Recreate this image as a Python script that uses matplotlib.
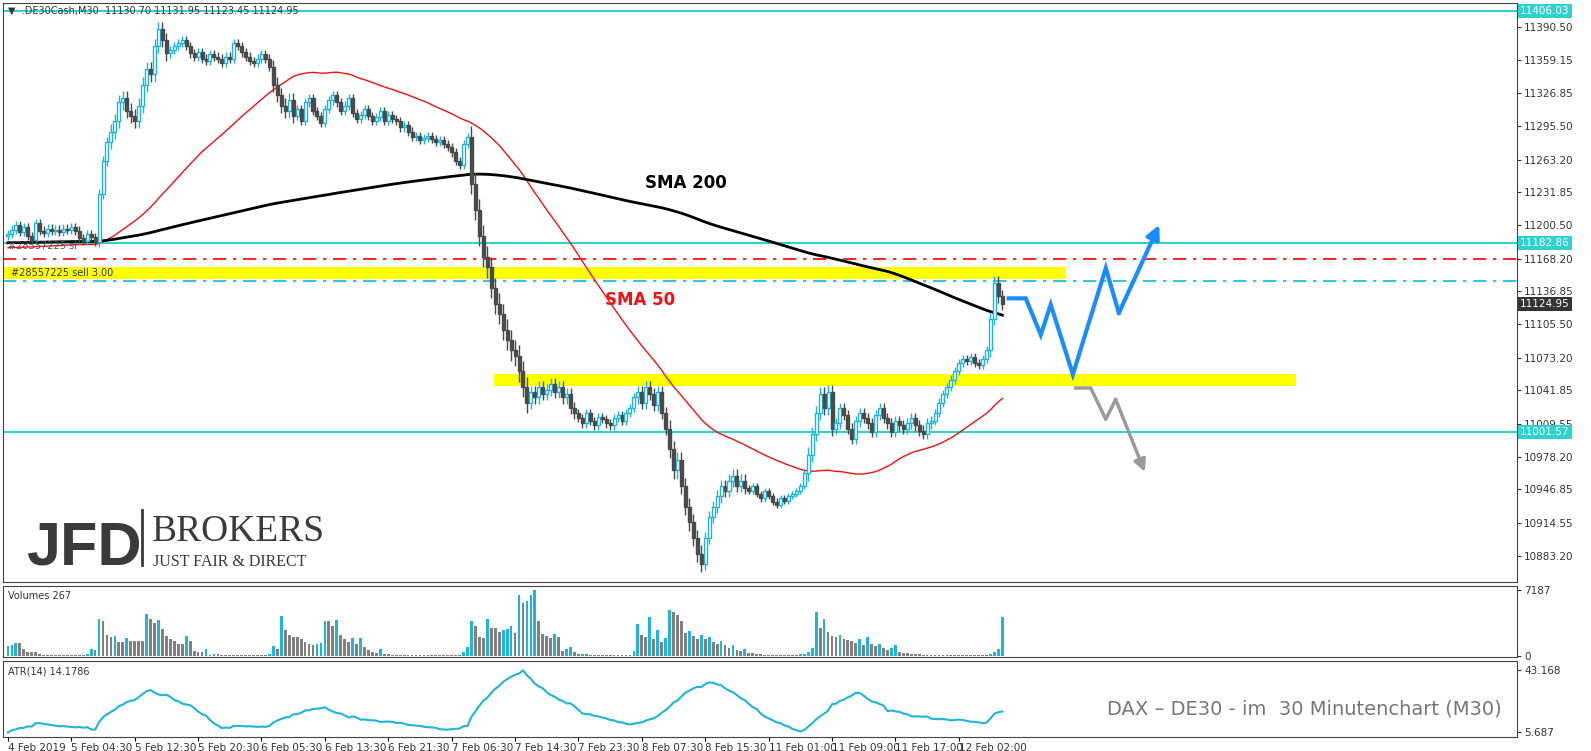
import matplotlib.pyplot as plt
import numpy as np
import pandas as pd
from matplotlib.patches import Rectangle

plt.rcParams['font.family'] = ['DejaVu Sans']

# --- Daten ---
closes = [
    11192, 11196, 11200, 11194, 11198, 11190, 11186, 11202, 11195, 11193, 11197, 11195, 11196, 11194, 11197, 11196,
    11198, 11195, 11188, 11185, 11192, 11189, 11184,
    11230, 11262, 11280,
    11290, 11300, 11318, 11322, 11310, 11305, 11300, 11315, 11335, 11350, 11345, 11372, 11388, 11378, 11365,
    11368, 11372, 11375, 11378, 11372, 11365, 11362, 11366, 11360, 11358, 11364, 11362, 11360, 11356, 11362, 11360,
    11375, 11372, 11366, 11362, 11358, 11356, 11360, 11364, 11360, 11352,
    11335, 11325, 11315, 11310, 11320, 11305,
    11312, 11300, 11318, 11322, 11310, 11305, 11298, 11312, 11320, 11325, 11318, 11310, 11315, 11322, 11308, 11302,
    11306, 11312, 11305, 11300, 11304, 11310, 11300, 11306, 11302, 11300, 11294, 11296,
    11290, 11285, 11286, 11282, 11284, 11286, 11283, 11280, 11282, 11278, 11275, 11270, 11262, 11258, 11278, 11285,
    11240, 11215, 11190, 11170, 11160, 11140, 11125, 11115, 11100, 11090, 11080, 11075, 11060, 11045, 11030,
    11040, 11035, 11045, 11038, 11042, 11048, 11040, 11045, 11035, 11038, 11025, 11020,
    11015, 11010, 11020, 11012, 11008, 11016, 11014, 11010, 11008, 11015, 11018, 11012, 11020, 11025, 11035,
    11040, 11030, 11045, 11038, 11028, 11040, 11020, 11005,
    10985, 10965, 10975, 10950, 10930, 10915, 10900, 10885, 10875,
    10900, 10920, 10930, 10940, 10950, 10945, 10955, 10960, 10950, 10955, 10948,
    10945, 10950, 10942, 10938, 10945, 10940, 10935, 10932, 10938, 10936, 10940, 10942, 10945, 10950, 10962,
    10980, 11000, 11020, 11038, 11025, 11040, 11005,
    11010, 11025, 11018, 11005, 10995, 11012, 11020, 11015, 11010, 11002, 11018, 11025, 11015, 11010, 11002, 11012,
    11008, 11005, 11010, 11015, 11008, 11003, 11000, 11010, 11012,
    11020, 11030, 11038, 11045, 11052, 11060, 11068, 11072, 11070, 11074, 11068, 11066, 11072, 11080,
    11110, 11145, 11132, 11125.0,
]
first_open = 11190
# Dochtlänge je Abschnitt
seg_len = [23, 3, 15, 26, 6, 28, 16, 15, 12, 15, 8, 9, 11, 15, 7, 25, 14, 4]
seg_wick = [4, 5, 7, 4, 7, 4, 4, 10, 6, 4, 6, 8, 6, 3, 7, 5, 4, 6]
# Vorgeschichte für SMA 200 (10er-Blöcke)
prior_block = [11180, 11182, 11185, 11183, 11186, 11188, 11185, 11184, 11187, 11186,
               11185, 11183, 11186, 11188, 11185, 11187, 11186, 11184, 11170, 11165]

volumes = [
    1100, 1200, 1400, 1400, 750, 450, 450, 450, 200, 100, 100, 100, 100, 100, 100, 100, 100, 100, 100, 100, 150, 700, 600,
    4060, 3780, 2300, 2000, 2200, 1500, 1500, 1900, 1600, 1600, 1600, 1600, 4580, 4060, 3600, 3900, 2900, 2150, 1800, 1600,
    1300, 1300, 2200, 1600, 500, 400, 400, 700, 100, 150,
    150, 100, 100, 100, 100, 100, 100, 100, 100, 100, 100, 100, 100, 150, 1100,
    760, 4300, 2850, 2300, 2000, 2000, 1800, 1500, 1300, 1200, 1300, 1400, 3800, 3800, 3200, 3900, 2300, 1800, 1500, 1900,
    1300, 1900, 950, 600, 400, 300, 700, 200, 200, 100, 100,
    100, 100, 100, 100, 100, 100, 100, 100, 100, 100, 100, 100, 100, 100, 100, 100, 400, 1000,
    3800, 3260, 2000, 1950, 4060, 3000, 3000, 2600, 2800, 2900, 3260, 2500, 6660, 5800, 6000, 6660, 7187, 3800, 2400, 2200,
    1900, 2400, 2100, 500, 700, 1000, 400, 150, 200, 200, 100, 100,
    100, 100, 100, 100, 100, 100, 100, 100, 100, 500,
    3500, 2300, 2000, 4200, 1800, 2800, 1500, 1900, 5000, 4800, 4500, 3800, 2500, 2700, 2200, 1800, 2300, 1800, 2000, 1500,
    1300, 1600, 1200, 800, 1200, 600, 500, 700, 300, 300, 200, 150, 100, 100, 100, 100, 100, 100, 100, 100, 100, 150,
    200, 400, 900, 4800, 3000, 4000, 2600, 2200, 2000, 2300, 1800, 1700, 1600, 1400, 1800, 1200, 2000, 1300, 1100, 1300,
    900, 600, 800, 1200, 400, 300, 300, 200, 200, 150, 100, 100, 100,
    100, 100, 100, 100, 100, 100, 100, 100, 100, 100, 100, 100, 100, 100, 200, 400, 700, 4200,
]

xtick_labels = ['4 Feb 2019', '5 Feb 04:30', '5 Feb 12:30', '5 Feb 20:30', '6 Feb 05:30', '6 Feb 13:30',
                '6 Feb 21:30', '7 Feb 06:30', '7 Feb 14:30', '7 Feb 23:30', '8 Feb 07:30', '8 Feb 15:30',
                '11 Feb 01:00', '11 Feb 09:00', '11 Feb 17:00', '12 Feb 02:00']
price_ticks = [11390.50, 11359.15, 11326.85, 11295.50, 11263.20, 11231.85, 11200.50, 11168.20, 11136.85,
               11105.50, 11073.20, 11041.85, 11009.55, 10978.20, 10946.85, 10914.55, 10883.20]

# Szenario-Pfeile
blue_x = [252.6, 256.9, 260.7, 263.2, 268.8, 277.1, 280.4, 290.9]
blue_y = [11130, 11130, 11095, 11124, 11057, 11159, 11116, 11203]
gray_x = [269.5, 273.3, 277.1, 279.6, 287.2]
gray_y = [11044, 11044, 11014, 11033, 10961]

# --- Berechnungen ---
c = np.array(closes, dtype=float)
n = len(c)
o = np.concatenate([[first_open], c[:-1]])
wick = np.repeat(seg_wick, seg_len)
hi = np.maximum(o, c) + wick
lo = np.minimum(o, c) - wick
x = np.arange(n)

full = pd.Series(np.concatenate([np.repeat(prior_block, 10), c]))
sma200 = full.rolling(200).mean().values[-n:]
sma50 = full.rolling(50).mean().values[-n:]
prev_c = np.concatenate([[first_open], c[:-1]])
tr = np.maximum(hi - lo, np.maximum(abs(hi - prev_c), abs(lo - prev_c)))
atr = pd.Series(tr).rolling(14, min_periods=1).mean().values

UP = '#1EB4DC'
DOWN = '#4A4A4A'
TURQ = '#2ED3CF'
XMAX = 380.9

fig = plt.figure(figsize=(15.91, 7.51), dpi=100)
ax = fig.add_axes([0.002, 0.225, 0.9515, 0.771])
axv = fig.add_axes([0.002, 0.125, 0.9515, 0.0945])
axa = fig.add_axes([0.002, 0.0186, 0.9515, 0.101])

for a in (ax, axv, axa):
    a.set_xlim(-1.2, XMAX)
    a.yaxis.tick_right()
    a.tick_params(axis='y', labelsize=7.5, length=3, colors='#333333', pad=2)
    a.tick_params(axis='x', length=0)
    for s in a.spines.values():
        s.set_color('#444444')
    a.set_xticks([])

# Kerzen
for i in range(n):
    up = c[i] >= o[i]
    col = UP if up else DOWN
    ax.vlines(x[i], lo[i], hi[i], color=col, lw=1, zorder=3)
    b = max(abs(c[i] - o[i]), 0.8)
    ax.add_patch(Rectangle((x[i] - 0.38, min(o[i], c[i])), 0.76, b, facecolor='white' if up else DOWN,
                           edgecolor=col, lw=1, zorder=4))

ax.plot(x, sma50, color='#F01010', lw=1, zorder=2)
ax.plot(x, sma200, color='black', lw=2, zorder=2)

ax.set_ylim(10857.8, 11413.4)
ax.set_yticks(price_ticks)
ax.set_yticklabels([f'{v:.2f}' for v in price_ticks])

# Horizontale Linien und Zonen
for lvl in (11406.03, 11182.86, 11001.57):
    ax.axhline(lvl, color=TURQ, lw=1.5, zorder=1)
ax.axhline(11168.20, color='red', lw=1.2, dashes=(8, 4, 2, 4), zorder=1)
ax.axhline(11146.5, color='#00BFE0', lw=1.2, dashes=(8, 4, 2, 4), zorder=1)
ax.fill_between([-1.2, 267], 11149, 11160, color='#FFFF00', zorder=1.5, lw=0)
ax.fill_between([122.7, 325], 11046, 11057, color='#FFFF00', zorder=1.5, lw=0)

for lvl, fc in ((11406.03, TURQ), (11182.86, TURQ), (11001.57, TURQ), (11124.95, '#333333')):
    ax.text(1.002, lvl, f'{lvl:.2f}', transform=ax.get_yaxis_transform(), fontsize=7.5, color='white',
            va='center', ha='left', bbox=dict(boxstyle='square,pad=0.2', fc=fc, ec='none'), zorder=10)

ax.text(0.003, 11180, '#28557225 sl', transform=ax.get_yaxis_transform(), fontsize=7, color='#555555', va='center')
ax.text(0.005, 11154.5, '#28557225 sell 3.00', transform=ax.get_yaxis_transform(), fontsize=7,
        color='#333333', va='center', zorder=5)
ax.text(0.003, 0.995, '\u25bc  .DE30Cash,M30  11130.70 11131.95 11123.45 11124.95', transform=ax.transAxes,
        fontsize=7, color='#333333', va='top', zorder=10)

ax.text(160.7, 11236, 'SMA 200', fontsize=12, fontweight='bold', color='black')
ax.text(150.6, 11124, 'SMA 50', fontsize=12, fontweight='bold', color='#F01010')

ax.plot(blue_x[:-1], blue_y[:-1], color='#1A8CFF', lw=3, solid_joinstyle='miter', zorder=6)
ax.annotate('', xy=(blue_x[-1], blue_y[-1]), xytext=(blue_x[-2], blue_y[-2]),
            arrowprops=dict(arrowstyle='-|>,head_length=0.8,head_width=0.4', color='#1A8CFF', lw=3), zorder=6)
ax.plot(gray_x[:-1], gray_y[:-1], color='#9A9A9A', lw=2.5, zorder=6)
ax.annotate('', xy=(gray_x[-1], gray_y[-1]), xytext=(gray_x[-2], gray_y[-2]),
            arrowprops=dict(arrowstyle='-|>,head_length=0.7,head_width=0.35', color='#9A9A9A', lw=2.5), zorder=6)

# Logo
ax.text(0.015, 0.03, 'JFD', transform=ax.transAxes, fontsize=44, fontweight='bold', color='#3A3A3A',
        family='Liberation Sans')
ax.plot([0.0915, 0.0915], [0.03, 0.125], transform=ax.transAxes, color='#3A3A3A', lw=2)
ax.text(0.098, 0.07, 'BROKERS', transform=ax.transAxes, fontsize=27, color='#3A3A3A', family='Liberation Serif')
ax.text(0.099, 0.028, 'JUST FAIR & DIRECT', transform=ax.transAxes, fontsize=11.5, color='#3A3A3A',
        family='Liberation Serif')

# Volumen
vol = np.array(volumes, dtype=float)
vcol = [UP if i == 0 or vol[i] > vol[i - 1] else '#808080' for i in range(n)]
axv.bar(x, vol, width=0.7, color=vcol)
axv.set_ylim(-150, 7600)
axv.set_yticks([0, 7187])
axv.set_yticklabels(['0', '7187'])
axv.text(0.003, 0.93, 'Volumes 267', transform=axv.transAxes, fontsize=7, color='#333333', va='top')

# ATR
axa.plot(x, atr, color=UP, lw=1.5)
lo_a, hi_a = atr.min(), atr.max()
axa.set_ylim(lo_a - 2, hi_a + 4)
axa.set_yticks([lo_a, hi_a])
axa.set_yticklabels(['5.687', '43.168'])
axa.text(0.003, 0.93, 'ATR(14) 14.1786', transform=axa.transAxes, fontsize=7, color='#333333', va='top')
axa.text(0.99, 0.25, 'DAX \u2013 DE30 - im  30 Minutenchart (M30)', transform=axa.transAxes, fontsize=14,
         color='#777777', ha='right', va='bottom')

ticks_x = np.arange(len(xtick_labels)) * 16
axa.set_xticks(ticks_x)
axa.set_xticklabels(xtick_labels, fontsize=7.5, color='#333333', ha='left')
axa.tick_params(axis='x', length=3, pad=1)

fig.savefig('out.png', dpi=100)
